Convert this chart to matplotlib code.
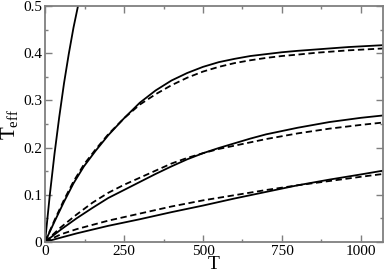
import matplotlib
matplotlib.use("Agg")
import matplotlib.pyplot as plt

plt.rcParams['font.family'] = ['Liberation Serif', 'DejaVu Serif']
plt.rcParams['mathtext.fontset'] = 'custom'
plt.rcParams['mathtext.rm'] = 'Liberation Serif'
plt.rcParams['mathtext.it'] = 'Liberation Serif'

# steep curve (leaves the frame at T ~ 105)
T_steep = [0, 15, 30, 45, 60, 75, 90, 104, 110]
steep = [0, 0.099, 0.187, 0.265, 0.336, 0.398, 0.454, 0.499, 0.518]

# upper pair (saturates near 0.42)
T_up = [0, 30, 60, 90, 123, 160, 200, 250, 300, 350, 400, 450, 500, 550, 600, 650, 700,
        750, 800, 860, 960, 1070]
up_solid = [0, 0.043, 0.085, 0.124, 0.160, 0.193, 0.226, 0.262, 0.295, 0.321, 0.342, 0.358,
            0.371, 0.381, 0.388, 0.394, 0.398, 0.402, 0.405, 0.408, 0.413, 0.417]
up_dash = [0, 0.046, 0.089, 0.128, 0.164, 0.196, 0.228, 0.262, 0.291, 0.313, 0.332, 0.348,
           0.361, 0.371, 0.379, 0.385, 0.390, 0.394, 0.397, 0.401, 0.406, 0.410]

# middle pair
T_mid = [0, 50, 100, 150, 200, 250, 300, 350, 400, 450, 500, 550, 600, 650, 700, 800, 900,
         1000, 1070]
mid_solid = [0, 0.026, 0.050, 0.072, 0.093, 0.110, 0.127, 0.144, 0.160, 0.175, 0.188, 0.199,
             0.209, 0.219, 0.228, 0.242, 0.254, 0.263, 0.268]
mid_dash = [0, 0.031, 0.058, 0.083, 0.104, 0.121, 0.136, 0.151, 0.166, 0.178, 0.188, 0.197,
            0.204, 0.211, 0.218, 0.230, 0.240, 0.248, 0.253]

# lower pair
T_low = [0, 50, 100, 200, 300, 400, 500, 600, 700, 800, 900, 1000, 1070]
low_solid = [0, 0.009, 0.018, 0.034, 0.048, 0.063, 0.077, 0.092, 0.106, 0.120, 0.132, 0.143, 0.151]
low_dash = [0, 0.016, 0.027, 0.045, 0.060, 0.075, 0.088, 0.099, 0.110, 0.120, 0.129, 0.138, 0.144]

xticks = [0, 250, 500, 750, 1000]
yticks = [0, 0.1, 0.2, 0.3, 0.4, 0.5]
ytick_labels = ['0', '0.1', '0.2', '0.3', '0.4', '0.5']

fig = plt.figure(figsize=(3.85, 2.73), dpi=100)
ax = fig.add_axes([0.117, 0.114, 0.878, 0.864])

lw = 1.3
ax.plot(T_steep, steep, color='black', lw=lw)
for T, s, d in [(T_up, up_solid, up_dash), (T_mid, mid_solid, mid_dash), (T_low, low_solid, low_dash)]:
    ax.plot(T, s, color='black', lw=lw)
    ax.plot(T, d, color='black', lw=lw, dashes=(3.5, 2))

ax.set_xlim(0, 1070)
ax.set_ylim(0, 0.5)
ax.set_xticks(xticks)
ax.set_xticks([125, 375, 625, 875], minor=True)
ax.set_yticks(yticks)
ax.set_yticklabels(ytick_labels)
ax.set_yticks([0.05, 0.15, 0.25, 0.35, 0.45], minor=True)

for sp in ax.spines.values():
    sp.set_color('#7f7f7f')
    sp.set_linewidth(1.3)
ax.tick_params(which='both', direction='in', top=True, right=True, color='#7f7f7f',
               width=1.0, labelsize=11, pad=2)
ax.tick_params(which='major', length=5)
ax.tick_params(which='minor', length=2.5)

ax.set_xlabel('T', fontsize=14, labelpad=-1)
ax.set_ylabel(r'T$_{\rm eff}$', fontsize=15, labelpad=2)

fig.savefig('out.png', dpi=100)
